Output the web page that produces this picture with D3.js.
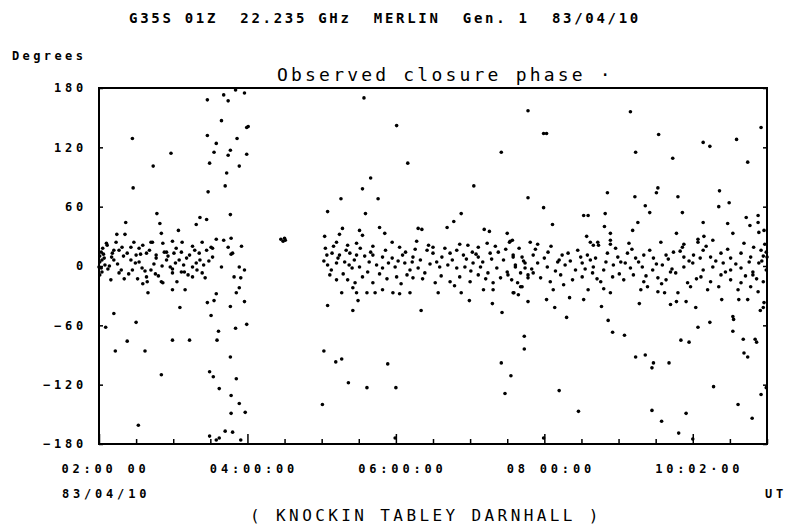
<!DOCTYPE html>
<html>
<head>
<meta charset="utf-8">
<script src="https://cdn.jsdelivr.net/npm/d3@7"></script>
<style>
  body { margin: 0; background: #fff; }
  svg text { font-family: "DejaVu Sans Mono", monospace; fill: #000; white-space: pre; }
</style>
</head>
<body>
<svg id="chart"></svg>
<script>
// time axis ticks (UT hours) and their printed labels
var utTicks = [2, 4, 6, 8, 10];
var utTickLabels = ["02:00 00", "04:00:00", "06:00:00", "08 00:00", "10:02·00"];
var utMinor = [2.5, 3, 3.5, 4.5, 5, 5.5, 6.5, 7, 7.5, 8.5, 9, 9.5, 10.5, 11];
var phaseTicks = [-180, -120, -60, 0, 60, 120, 180];

// [UT hours, closure phase degrees]
var earlyCore = [
  [2.11,21],[2.23,24],[2.43,19],[2.47,24],[2.59,21],[2.72,24],[2.86,23],[2.99,25],[3.12,24],[3.26,20],[3.39,24],[3.53,18],
  [2.03,14],[2.18,13],[2.27,16],[2.38,13],[2.50,11],[2.64,13],[2.77,11],[2.88,14],[3.01,13],[3.11,14],[3.22,11],[3.35,13],[3.45,16],
  [2.04,6],[2.20,6],[2.43,6],[2.54,4],[2.77,8],[2.91,6],[3.08,6],[3.18,8],[3.31,3],[3.41,1],
  [2.00,-1],[2.14,0],[2.30,-4],[2.45,-4],[2.58,-2],[2.70,-4],[2.85,0],[2.99,-3],[3.11,-6],[3.26,-1],[3.39,-7],
  [2.04,-6],[2.16,-14],[2.34,-13],[2.64,-11],[2.76,-8],[2.86,-17],[2.99,-7],[3.05,-16],[3.26,-11],[2.59,-18],[2.27,-7],
  [2.10,23],[2.20,16],[2.31,19],[2.54,18],[2.70,24],[2.91,14],[3.51,19],[3.80,13],
  [2.01,10],[2.01,4],[2.03,-2],[2.01,-9],[2.07,8],[2.08,1],[2.05,18],
  [2.65,-16],[2.84,-16],[3.15,-6],[3.32,-4],
  [2.06,12],[2.12,-3],[2.17,9],[2.25,2],[2.33,10],[2.40,-8],[2.49,3],[2.56,12],[2.62,-5],[2.68,16],[2.74,2],
  [2.80,-10],[2.93,10],[2.96,-1],[3.04,18],[3.14,1],[3.20,-9],[3.29,16],[3.36,6],[3.43,-12],[3.48,5],[3.03,3],[2.52,-13]
];

var earlyScatter = [
  [3.46,168],[3.68,173],[3.74,167],[3.84,178],[3.96,175],[2.45,129],[3.46,132],[3.65,147],[3.99,140],[4.01,141],
  [3.86,129],[3.58,124],[2.97,114],[3.55,115],[3.77,117],[3.74,112],[3.99,113],[2.73,101],[3.49,104],[3.89,101],
  [3.72,94],[3.70,81],[2.46,79],[3.47,75],[3.77,52],[2.78,53],[2.36,44],[2.82,43],[3.36,49],[3.45,47],[3.31,42],
  [2.24,32],[2.35,32],[2.84,33],[3.07,36],[3.58,27],[3.68,26],[3.78,28],[3.92,20],
  [2.20,-48],[2.50,-57],[2.09,-62],[2.38,-76],[2.22,-86],[2.62,-86],[2.99,-75],[3.22,-75],[3.09,-42],[2.66,-27],
  [2.99,-24],[3.16,-24],[2.84,-110],[2.53,-161],[3.46,-37],[3.55,-35],[3.58,-28],[3.51,-50],[3.61,-66],[3.59,-75],
  [3.77,-41],[3.85,-27],[3.89,-22],[3.96,-36],[3.84,-63],[3.99,-59],[3.77,-92],[3.49,-107],[3.54,-112],[3.85,-114],
  [3.62,-124],[3.78,-131],[3.89,-139],[3.78,-149],[3.97,-148],[3.49,-172],[3.58,-176],[3.70,-167],[3.80,-168],
  [3.62,-174],[3.91,-176],[3.65,-1],[3.89,-1],[3.96,-4],[3.82,-11],[3.91,-12],[3.53,9],[3.78,12],[3.74,19]
];

var blob = [[4.45,27],[4.48,25],[4.51,26],[4.50,28]];

var lateCore = [
  [5.20,24],[5.35,21],[5.47,23],[5.69,20],[5.95,24],[6.05,19],[6.28,25],[6.50,19],[6.86,22],[6.97,21],[7.11,19],[7.23,23],[7.54,25],
  [5.07,11],[5.14,13],[5.24,11],[5.38,13],[5.47,11],[5.58,10],[5.69,11],[5.82,9],[5.95,8],[6.09,11],[6.23,9],[6.42,16],
  [6.50,13],[6.62,9],[6.73,13],[6.82,16],[6.91,11],[7.03,14],[7.11,9],[7.27,13],[7.38,14],[7.58,9],[7.74,3],
  [5.08,1],[5.20,3],[5.31,4],[5.41,-2],[5.51,-1],[5.62,-6],[5.74,1],[5.82,-2],[5.99,-1],[6.12,3],[6.22,4],[6.30,-2],
  [6.46,2],[6.59,-1],[6.70,1],[6.82,-2],[6.93,-1],[7.04,3],[7.14,-1],[7.24,-7],[7.36,-2],[7.50,-6],[7.61,-1],[7.68,-7],[7.78,-9],
  [5.11,-9],[5.20,-14],[5.35,-14],[5.45,-17],[5.69,-17],[5.88,-13],[6.01,-11],[6.15,-9],[6.23,-12],[6.36,-13],[6.53,-17],
  [6.73,-16],[6.86,-11],[7.00,-16],[7.11,-9],[7.31,-17],[7.51,-9],[7.70,-21],
  [5.27,-27],[5.42,-22],[5.47,-27],[5.61,-27],[5.72,-27],[5.82,-24],[5.96,-27],[6.05,-28],[6.19,-27],[6.57,-27],
  [6.88,-27],[7.18,-24],[7.31,-24],[7.59,-27],[7.65,-29],
  [8.62,24],[8.73,21],[8.89,22],[10.07,24],[9.86,19],
  [7.58,11],[7.70,9],[7.85,11],[8.05,14],[8.24,11],[8.32,13],[8.49,9],[8.58,11],[8.69,8],[8.85,13],[8.99,9],[9.12,13],
  [9.23,8],[9.34,11],[9.47,8],[9.64,11],[9.74,14],[9.88,9],[10.01,11],[10.14,16],[10.24,9],[10.38,13],[10.51,8],
  [10.65,13],[10.78,9],[10.92,16],[11.0,9],
  [7.61,1],[7.74,-2],[7.91,3],[8.04,-1],[8.18,4],[8.28,1],[8.42,-4],[8.51,3],[8.66,-1],[8.80,-4],[8.93,1],[9.03,4],
  [9.16,-2],[9.32,-1],[9.46,-4],[9.59,1],[9.70,-6],[9.88,-1],[10.00,3],[10.14,-4],[10.27,-1],[10.41,3],[10.51,-4],
  [10.65,-2],[10.81,-6],[10.89,3],[10.99,-4],
  [7.64,-17],[7.78,-12],[7.85,-7],[8.08,-16],[8.22,-9],[8.38,-14],[8.51,-11],[8.65,-7],[8.76,-16],[8.92,-11],[9.07,-14],
  [9.20,-9],[9.34,-16],[9.53,-12],[9.64,-14],[9.77,-7],[9.93,-17],[10.11,-11],[10.24,-16],[10.38,-9],[10.51,-14],
  [10.65,-17],[10.81,-9],[10.95,-16],
  [7.58,-27],[7.68,-21],[8.12,-24],[8.59,-24],[8.80,-23],[8.89,-27],[9.30,-24],[9.39,-21],[9.53,-26],[9.62,-27],
  [9.80,-27],[9.97,-21],[10.20,-24],[10.35,-21],[10.61,-24],[10.78,-21],
  [5.03,5],[5.05,18],[5.13,-4],[5.16,20],[5.22,8],[5.29,-8],[5.33,16],[5.37,1],[5.44,6],[5.52,18],[5.55,-11],[5.64,4],
  [5.66,14],[5.78,-8],[5.86,16],[5.90,3],[6.03,5],[6.07,-18],[6.13,14],[6.19,-4],[6.26,17],[6.33,6],[6.39,-7],[6.44,21],
  [6.55,4],[6.61,-10],[6.66,18],[6.76,6],[6.79,-20],[6.95,7],[7.01,-5],[7.08,12],[7.17,4],[7.21,-13],[7.29,7],[7.34,20],
  [7.41,-12],[7.45,6],[7.48,17],[7.56,-14],[7.66,18],[7.72,5],[7.83,-3],[7.88,17],[7.95,-12],[8.00,8],[8.09,20],
  [8.15,-5],[8.20,6],[8.26,-19],[8.35,5],[8.45,16],[8.55,-3],[8.62,6],[8.71,-13],[8.83,4],[8.96,18],[9.01,-8],[9.09,3],
  [9.18,17],[9.27,4],[9.37,-10],[9.42,16],[9.51,2],[9.58,-18],[9.67,7],[9.72,-3],[9.83,15],[9.95,5],[10.05,-13],
  [10.10,8],[10.18,20],[10.31,5],[10.44,-6],[10.47,17],[10.58,2],[10.71,-10],[10.76,4],[10.86,-13],[10.93,5],[10.97,22]
];

var lateScatter = [
  [5.57,170],[6.01,142],[7.42,115],[7.78,157],[6.16,104],[5.66,89],[5.55,78],[5.26,68],[5.76,68],[7.05,81],[7.78,69],
  [5.08,55],[5.59,53],[6.88,53],[6.78,45],[6.69,39],[5.04,30],[5.24,32],[5.28,38],[5.51,36],[5.55,31],[5.78,39],
  [5.85,33],[6.30,38],[6.35,37],[7.19,37],[7.26,35],[7.50,33],[7.53,24],[7.99,134],[8.03,134],[9.16,156],[9.54,133],
  [9.23,115],[9.73,109],[10.14,125],[10.23,121],[10.59,128],[10.92,140],[10.74,105],[7.99,59],[8.11,42],[8.85,74],
  [9.22,70],[9.53,79],[9.51,74],[9.80,70],[9.36,61],[9.42,54],[9.86,54],[10.36,76],[10.35,60],[10.49,64],[8.82,53],
  [8.53,51],[8.59,51],[9.26,44],[10.14,44],[10.47,43],[10.88,51],[10.72,49],[10.77,41],[10.89,34],[10.96,36],
  [10.88,44],[8.81,40],[9.19,36],[8.57,30],[8.72,24],[8.66,21],[8.89,33],[8.89,26],[9.14,23],[9.57,24],[9.78,33],
  [9.88,22],[10.07,27],[10.15,30],[10.27,26],[10.54,33],[10.69,23],[10.82,19],[10.95,10],[10.99,14],[7.57,26],
  [7.81,24],[7.91,22],
  [5.08,-40],[5.42,-45],[6.34,-45],[5.49,-35],[6.99,-35],[7.30,-38],[7.43,-47],[5.03,-86],[5.19,-97],[5.27,-94],
  [5.89,-99],[5.36,-118],[5.61,-123],[6.00,-123],[5.01,-140],[5.99,-174],[7.42,-98],[7.55,-111],[7.47,-129],
  [7.73,-71],[7.73,-84],[7.78,-36],[8.20,-126],[8.46,-147],[7.99,-174],[8.30,-52],[8.14,-42],[8.03,-34],[8.92,-67],
  [9.08,-70],[8.86,-55],[8.77,-41],[8.53,-34],[8.34,-32],[9.23,-92],[9.36,-90],[9.47,-98],[9.45,-103],[9.68,-98],
  [9.28,-38],[9.70,-39],[9.78,-36],[9.91,-36],[10.04,-42],[10.07,-62],[10.23,-57],[9.84,-75],[9.95,-77],[10.28,-122],
  [10.61,-140],[9.45,-146],[9.58,-157],[9.91,-149],[9.81,-169],[10.00,-175],[10.80,-154],[10.92,-130],[10.99,-123],
  [10.54,-51],[10.55,-54],[10.54,-66],[10.68,-74],[10.84,-74],[10.86,-77],[10.69,-88],[10.74,-92],[10.39,-34],
  [10.62,-34],[10.74,-34],[10.88,-26],[10.91,-45],[10.95,-42],[10.96,-37]
];

var width = 787, height = 529;

var svg = d3.select("#chart")
    .attr("width", width)
    .attr("height", height);

var x = d3.scaleLinear().domain([2, 11]).range([99, 767]);
var y = d3.scaleLinear().domain([-180, 180]).range([444, 88]);

// frame
svg.append("rect")
    .attr("x", x(2)).attr("y", y(180))
    .attr("width", x(11) - x(2)).attr("height", y(-180) - y(180))
    .attr("fill", "none").attr("stroke", "#000").attr("stroke-width", 2);

// bottom ticks pointing up
var minorAxis = d3.axisBottom(x).tickValues(utMinor).tickSize(-5).tickFormat("");
var majorAxis = d3.axisBottom(x).tickValues(utTicks).tickSize(-10).tickFormat("");
svg.append("g").attr("transform", "translate(0," + y(-180) + ")").call(minorAxis);
svg.append("g").attr("transform", "translate(0," + y(-180) + ")").call(majorAxis);

// time labels
var labelAxis = d3.axisBottom(x).tickValues(utTicks).tickSize(0).tickPadding(20)
    .tickFormat(function(d, i) { return utTickLabels[i]; });
var gl = svg.append("g").attr("transform", "translate(0," + y(-180) + ")").call(labelAxis);

// left & right ticks
var leftAxis = d3.axisLeft(y).tickValues(phaseTicks).tickSize(-4).tickPadding(16);
var gy = svg.append("g").attr("transform", "translate(" + x(2) + ",0)").call(leftAxis);
var rightAxis = d3.axisRight(y).tickValues(phaseTicks).tickSize(-4).tickFormat("");
var gr = svg.append("g").attr("transform", "translate(" + x(11) + ",0)").call(rightAxis);

[gl, gy, gr].forEach(function(g) { g.select(".domain").remove(); });
svg.selectAll(".tick line").attr("stroke", "#000").attr("stroke-width", 1.5);

svg.selectAll(".tick text")
    .attr("font-family", "DejaVu Sans Mono")
    .attr("font-size", 12)
    .attr("font-weight", "bold")
    .style("letter-spacing", "3.8px");
gl.selectAll(".tick text").attr("dx", 6);
gy.selectAll(".tick text").attr("dx", 4);

// the points
var allPoints = earlyCore.concat(earlyScatter, blob, lateCore, lateScatter);
svg.append("g")
  .selectAll("circle")
  .data(allPoints)
  .enter()
  .append("circle")
    .attr("cx", function(d) { return x(d[0]); })
    .attr("cy", function(d) { return y(d[1]); })
    .attr("r", 1.8)
    .attr("fill", "#000");

// texts
function label(t, xp, yp, size, weight, ls) {
  svg.append("text")
    .attr("x", xp).attr("y", yp)
    .attr("xml:space", "preserve")
    .attr("font-size", size)
    .attr("font-weight", weight)
    .style("letter-spacing", ls + "px")
    .text(t);
}
label("G35S 01Z  22.235 GHz  MERLIN  Gen. 1  83/04/10", 129, 23, 14, "bold", 2.7);
label("Degrees", 12, 60, 12, "bold", 3.4);
label("Observed closure phase ·", 277, 81, 18, "normal", 3.2);
label("83/04/10", 62, 498, 12, "bold", 3.8);
label("UT", 765, 498, 12, "bold", 3.8);
label("( KNOCKIN TABLEY DARNHALL )", 250, 521, 16, "normal", 3.4);
</script>
</body>
</html>
